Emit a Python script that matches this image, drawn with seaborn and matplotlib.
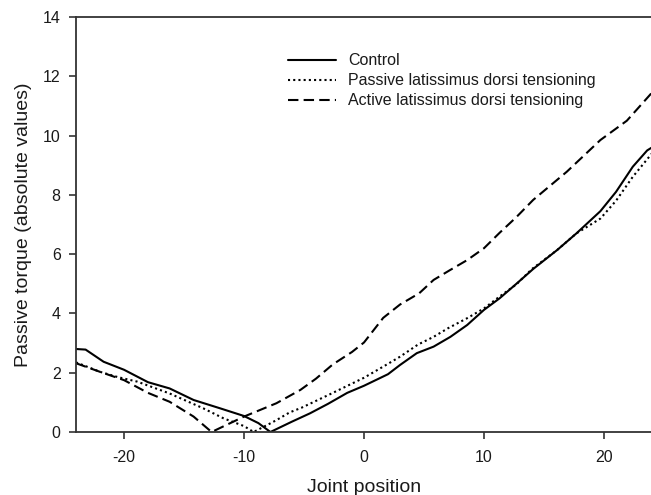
import numpy as np
import pandas as pd
import matplotlib
matplotlib.use("Agg")
import matplotlib.pyplot as plt
import seaborn as sns

# ---- data ----
series_names = ["Control",
                "Passive latissimus dorsi tensioning",
                "Active latissimus dorsi tensioning"]

control_x = [-24, -23.2, -21.7, -20, -18, -16.2, -14.2, -12, -10, -8.8, -7.8,
             -6, -4.5, -3, -1.4, 0, 2, 3, 4.4, 5.8, 7.2, 8.6, 10, 11.3, 12.7,
             14.1, 16.1, 17.7, 19.7, 21, 22.4, 23.6, 24]
control_y = [2.8, 2.78, 2.37, 2.1, 1.68, 1.47, 1.08, 0.8, 0.54, 0.3, 0.0,
             0.35, 0.63, 0.95, 1.32, 1.56, 1.95, 2.26, 2.66, 2.88, 3.21, 3.61, 4.12, 4.51, 5.0,
             5.5, 6.14, 6.7, 7.45, 8.1, 8.95, 9.5, 9.6]

passive_x = [-24, -22, -20.5, -18.9, -16.2, -13.4, -11.7, -10, -9.2, -8, -7.3,
             -6.2, -5.2, -2.7, 0, 2, 3, 4.5, 5.8, 7, 8.6, 10, 11.3, 12.7, 14,
             16.1, 17.7, 19.7, 21, 22.4, 24]
passive_y = [2.35, 2.03, 1.85, 1.70, 1.30, 0.80, 0.46, 0.2, 0.0, 0.25, 0.40,
             0.66, 0.82, 1.3, 1.83, 2.3, 2.54, 2.95, 3.21, 3.5, 3.84, 4.17, 4.57, 4.98, 5.5,
             6.14, 6.7, 7.2, 7.8, 8.61, 9.4]

active_x = [-24, -22, -20, -18, -16.2, -14.2, -12.7, -10, -7.3, -5.3, -4,
            -2.6, -1, 0, 1.6, 3, 4.6, 5.8, 7.2, 8.6, 10, 11.3, 12.7, 14.1,
            16.9, 19.7, 21.9, 24]
active_y = [2.32, 2.03, 1.75, 1.32, 1.02, 0.52, 0.0, 0.52, 0.97, 1.42, 1.8,
            2.28, 2.7, 3.02, 3.85, 4.3, 4.68, 5.13, 5.47, 5.8, 6.2, 6.72, 7.25, 7.83,
            8.78, 9.85, 10.5, 11.45]

x_ticks = [-20, -10, 0, 10, 20]
y_ticks = [0, 2, 4, 6, 8, 10, 12, 14]

df = pd.concat([
    pd.DataFrame({"x": control_x, "y": control_y, "series": series_names[0]}),
    pd.DataFrame({"x": passive_x, "y": passive_y, "series": series_names[1]}),
    pd.DataFrame({"x": active_x, "y": active_y, "series": series_names[2]}),
], ignore_index=True)

# ---- style ----
sns.set_theme(style="ticks")
plt.rcParams["font.family"] = ["Liberation Sans", "DejaVu Sans"]
plt.rcParams["axes.unicode_minus"] = False
ink = "#1a1a1a"

fig = plt.figure(figsize=(6.51, 4.95), dpi=100)
ax = fig.add_axes([76 / 651, 1 - 432 / 495, 576 / 651, 415 / 495])

sns.lineplot(data=df, x="x", y="y", hue="series", style="series",
             hue_order=series_names, style_order=series_names,
             palette={n: "black" for n in series_names},
             dashes={series_names[0]: "", series_names[1]: (1, 1.5),
                     series_names[2]: (5, 2.5)},
             estimator=None, sort=False, linewidth=1.5, ax=ax)

ax.set_xlim(-24, 24)
ax.set_ylim(0, 14)
ax.set_xticks(x_ticks)
ax.set_yticks(y_ticks)
ax.set_xlabel("Joint position", fontsize=14, color=ink, labelpad=10)
ax.set_ylabel("Passive torque (absolute values)", fontsize=14, color=ink, labelpad=8)
ax.tick_params(axis="both", direction="out", length=5, width=1.2,
               colors="#333333", labelsize=11.5, labelcolor=ink, pad=6)
ax.tick_params(axis="x", pad=8)

for side in ["left", "bottom", "top"]:
    ax.spines[side].set_visible(True)
    ax.spines[side].set_linewidth(1.3)
    ax.spines[side].set_color("#333333")
ax.spines["right"].set_visible(False)

sns.move_legend(ax, "upper left", bbox_to_anchor=(0.368, 0.913),
                frameon=False, title=None, fontsize=11.5,
                handlelength=3.0, handletextpad=0.75, labelspacing=0.32,
                borderpad=0, borderaxespad=0)
for t in ax.get_legend().get_texts():
    t.set_color(ink)

fig.savefig("out.png", dpi=100)
